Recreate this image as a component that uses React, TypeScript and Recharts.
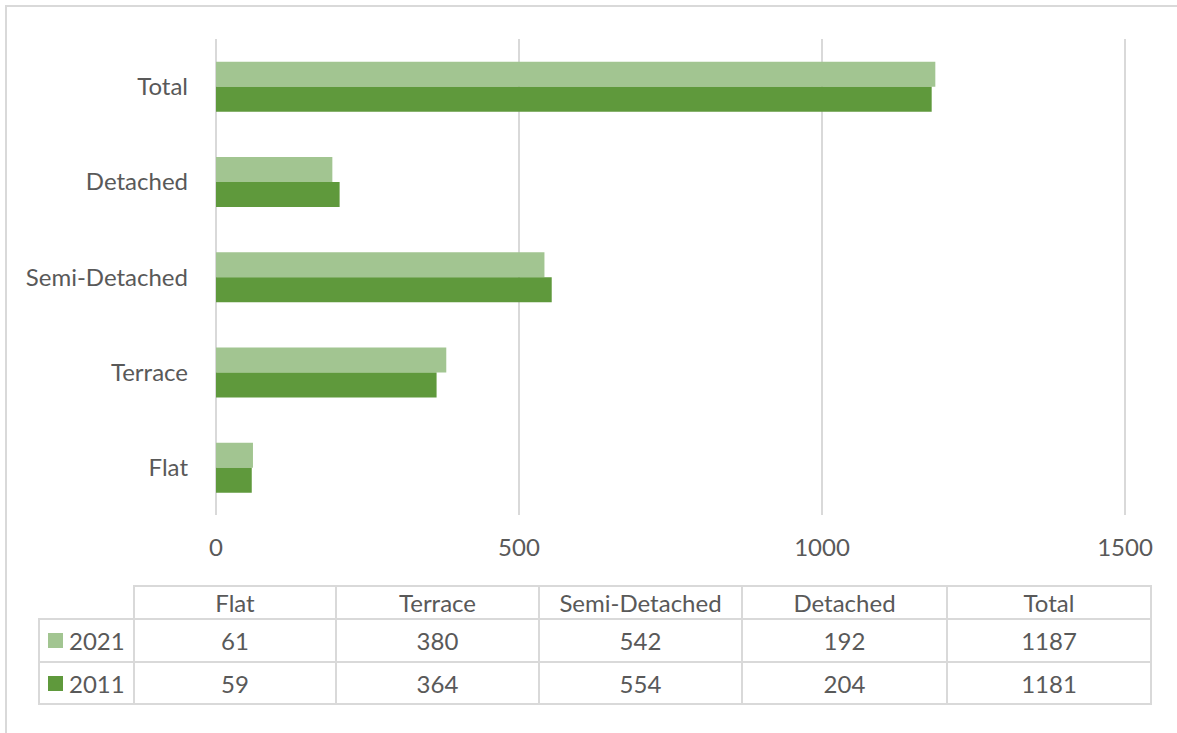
import React from "react";
import { BarChart, Bar, XAxis, YAxis, CartesianGrid } from "recharts";

// Dwelling types, in table order (chart draws the first one at the bottom)
const categories = ["Flat", "Terrace", "Semi-Detached", "Detached", "Total"];
const values2021 = [61, 380, 542, 192, 1187];
const values2011 = [59, 364, 554, 204, 1181];
const seriesNames = ["2021", "2011"];
const xTicks = [0, 500, 1000, 1500];

const COLOR_2021 = "#A2C591";
const COLOR_2011 = "#5F993C";
const TEXT = "#595959";
const LINE = "#D9D9D9";
const FONT = "Lato, 'Open Sans', sans-serif";
const FS = 24;

const data = categories.map((name, i) => ({
  name,
  y2021: values2021[i],
  y2011: values2011[i],
}));

// Data table geometry
const colEdges = [38, 133, 335, 538, 741, 946, 1150];
const rowEdges = [585, 618, 661, 703];

function DataTable() {
  const cells: React.ReactNode[] = [];
  const rows = [
    { label: null as string | null, color: null as string | null, vals: categories },
    { label: seriesNames[0], color: COLOR_2021, vals: values2021.map(String) },
    { label: seriesNames[1], color: COLOR_2011, vals: values2011.map(String) },
  ];
  rows.forEach((row, r) => {
    const top = rowEdges[r];
    const h = rowEdges[r + 1] - rowEdges[r];
    if (row.label) {
      cells.push(
        <div
          key={`l${r}`}
          style={{
            position: "absolute",
            left: colEdges[0],
            top,
            width: colEdges[1] - colEdges[0] + 2,
            height: h + 2,
            boxSizing: "border-box",
            border: `2px solid ${LINE}`,
            display: "flex",
            alignItems: "center",
            paddingLeft: 8,
          }}
        >
          <span
            style={{
              display: "inline-block",
              width: 15,
              height: 15,
              background: row.color!,
              marginRight: 6,
            }}
          />
          <span>{row.label}</span>
        </div>
      );
    }
    row.vals.forEach((v, c) => {
      cells.push(
        <div
          key={`c${r}-${c}`}
          style={{
            position: "absolute",
            left: colEdges[c + 1],
            top,
            width: colEdges[c + 2] - colEdges[c + 1] + 2,
            height: h + 2,
            boxSizing: "border-box",
            border: `2px solid ${LINE}`,
            display: "flex",
            alignItems: "center",
            justifyContent: "center",
          }}
        >
          {v}
        </div>
      );
    });
  });
  return <>{cells}</>;
}

export default function App() {
  return (
    <div
      style={{
        position: "absolute",
        left: 0,
        top: 0,
        width: 1177,
        height: 733,
        overflow: "hidden",
        background: "#fff",
        fontFamily: FONT,
        fontSize: FS,
        color: TEXT,
      }}
    >
      <div
        style={{
          position: "absolute",
          left: 5,
          top: 5,
          width: 1190,
          height: 760,
          border: `2px solid ${LINE}`,
          boxSizing: "border-box",
        }}
      />
      <div style={{ position: "absolute", left: 0, top: 0 }}>
        <BarChart
          width={1177}
          height={580}
          data={data}
          layout="vertical"
          margin={{ top: 39, right: 52, bottom: 25, left: 0 }}
          barCategoryGap="24%"
          barGap={0}
        >
          <CartesianGrid horizontal={false} stroke={LINE} strokeWidth={2} />
          <XAxis
            type="number"
            domain={[0, 1500]}
            ticks={xTicks}
            axisLine={false}
            tickLine={false}
            height={40}
            tickMargin={18}
            tick={{ fill: TEXT, fontSize: FS, fontFamily: FONT }}
          />
          <YAxis
            type="category"
            dataKey="name"
            reversed
            width={216}
            axisLine={false}
            tickLine={false}
            tickMargin={22}
            tick={{ fill: TEXT, fontSize: FS, fontFamily: FONT }}
          />
          <Bar dataKey="y2021" name={seriesNames[0]} fill={COLOR_2021} isAnimationActive={false} />
          <Bar dataKey="y2011" name={seriesNames[1]} fill={COLOR_2011} isAnimationActive={false} />
        </BarChart>
      </div>
      <DataTable />
    </div>
  );
}
